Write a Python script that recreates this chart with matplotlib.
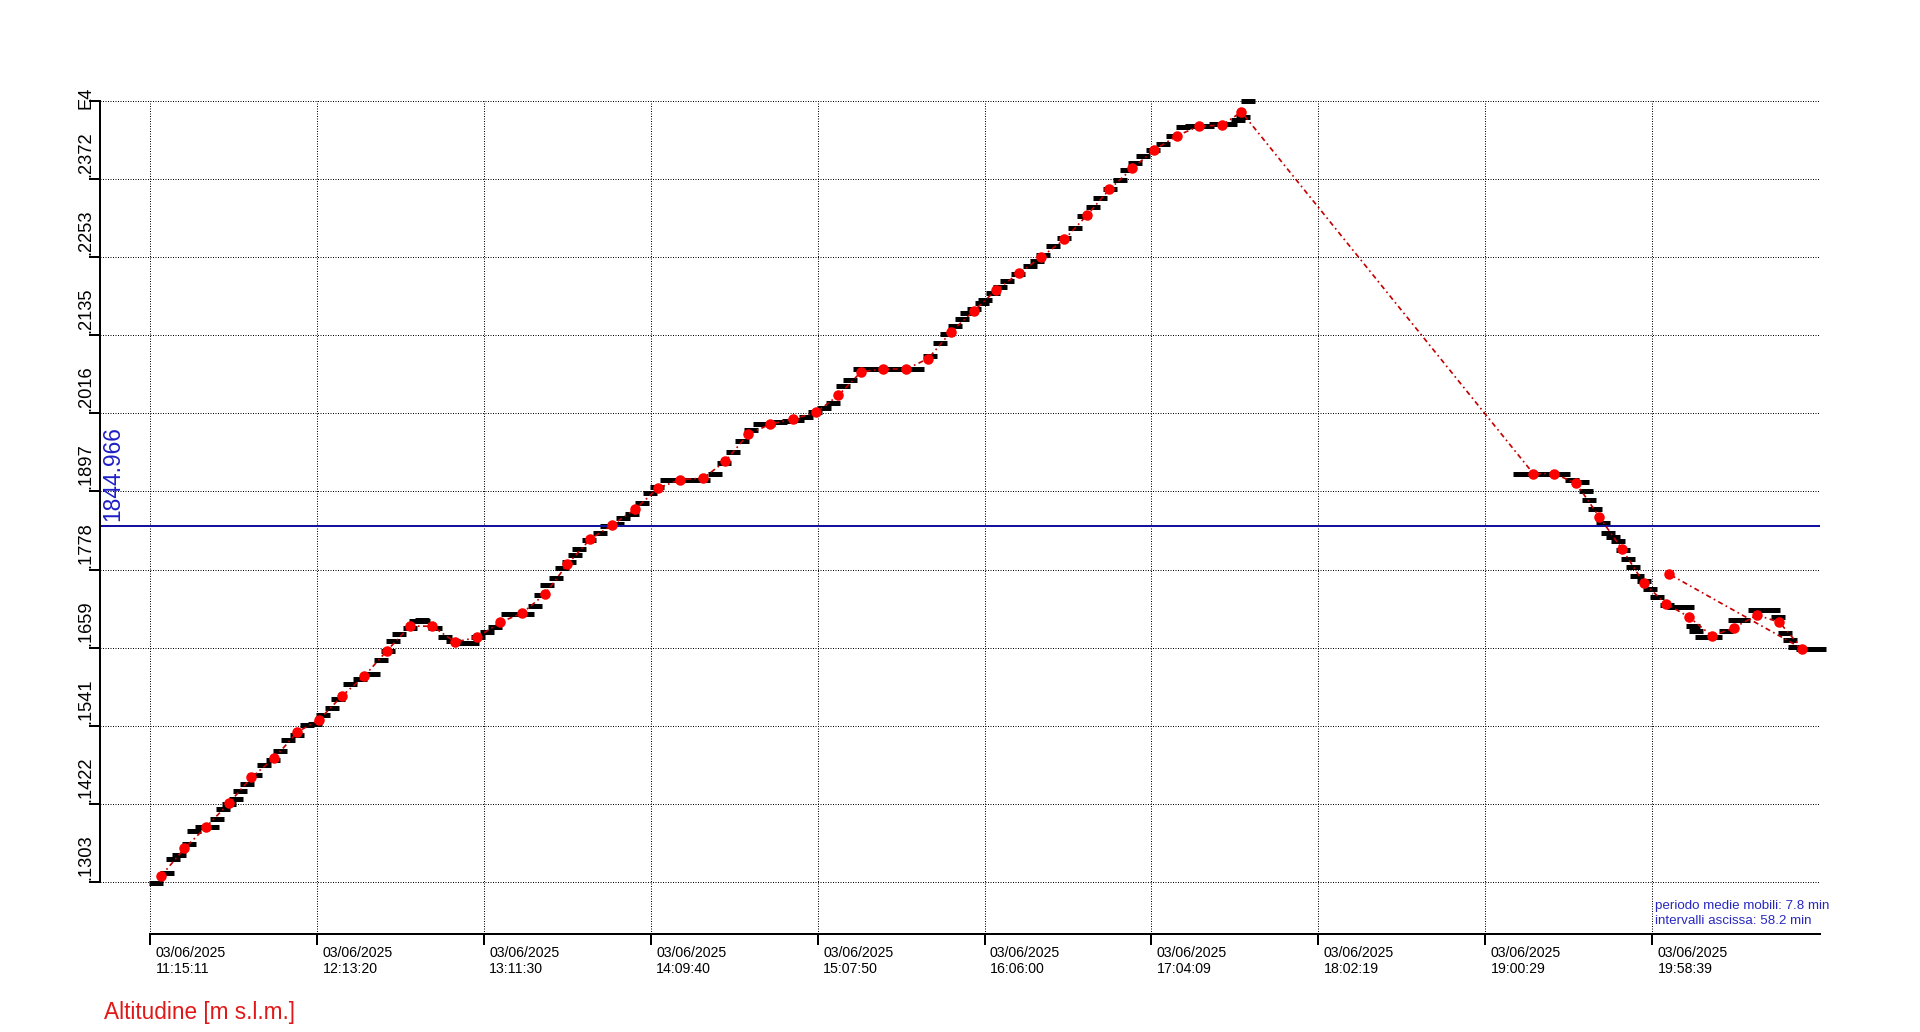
import matplotlib
matplotlib.use("Agg")
import matplotlib.pyplot as plt

plt.rcParams['font.family'] = ['Liberation Sans', 'DejaVu Sans']

# ── data ─────────────────────────────────────────────────────────────────────
# x axis: minutes after 03/06/2025 11:15:11
tick_date = "03/06/2025"
tick_times = ["11:15:11", "12:13:20", "13:11:30", "14:09:40", "15:07:50",
              "16:06:00", "17:04:09", "18:02:19", "19:00:29", "19:58:39"]

y_ticks = [1303.0, 1421.8, 1540.6, 1659.4, 1778.2, 1897.0,
           2015.8, 2134.6, 2253.4, 2372.2, 2491.0]
y_labels = [".1303", ".1422", ".1541", ".1659", ".1778", ".1897",
            ".2016", ".2135", ".2253", ".2372"]
exp_label = "E4"

ref_alt = 1844.966

# raw altitude samples (black)
raw_t = [2.0, 5.8, 8.1, 10.1, 13.6, 15.4, 17.9, 21.4, 23.4, 25.3, 27.5, 29.9,
         31.3, 33.8, 36.5, 39.7, 42.9, 45.2, 48.1, 51.1, 54.5, 57.4, 60.3, 63.3,
         65.6, 69.6, 73.1, 77.8, 80.3, 83.0, 84.7, 86.8, 90.5, 92.5, 94.6,
         95.2, 99.3, 102.7, 105.6, 109.7, 112.0, 114.4, 117.3, 120.2, 124.8,
         128.0, 131.2, 134.1, 136.2, 138.2, 141.4, 143.4, 145.8, 148.1, 149.6,
         153.0, 156.8, 159.1, 162.6, 164.9, 167.8, 171.3, 174.2, 176.5, 180.0,
         183.0, 187.0, 190.0, 192.8,
         196.9, 200.0, 203.2, 206.2, 209.5, 212.5, 215.5, 219.5, 222.5, 225.3,
         228.5, 231.7, 235.0, 238.1, 241.6, 243.9, 247.4, 250.5, 254.4, 257.5,
         261.4, 264.5, 267.1, 271.8, 275.3, 277.6, 280.5, 282.8, 284.6, 287.2,
         289.8,
         291.0, 293.9, 296.2, 298.5, 302.5, 306.6, 309.0, 311.3, 314.8, 318.5,
         322.3, 325.5, 328.7, 331.1, 334.5, 338.0, 340.3, 343.2, 346.1, 349.5,
         353.1, 356.5, 360.1, 363.0, 366.0, 368.3, 371.5, 374.0, 376.4, 379.0,
         381.0, 382.8,
         477.4, 480.5, 483.5, 486.5, 489.5, 492.5, 495.5, 498.9, 500.4, 501.6,
         503.6, 506.5, 508.2, 510.0, 511.7, 513.5, 515.2, 516.9, 518.1, 520.5,
         522.7, 525.1, 528.6, 531.0, 533.2, 535.5, 537.8, 538.9, 541.0, 543.1,
         545.5, 549.4, 552.5, 555.3, 559.5, 562.8, 565.5, 567.5, 569.8, 571.5,
         573.3, 576.0, 579.0, 581.5]
raw_alt = [1302, 1317, 1338, 1344, 1361, 1381, 1386, 1387, 1399, 1414, 1422, 1430,
           1441, 1452, 1465, 1481, 1489, 1503, 1519, 1526, 1542, 1543, 1557, 1568,
           1582, 1604, 1612, 1620, 1641, 1655, 1670, 1680, 1690, 1700, 1701,
           1700, 1690, 1676, 1670, 1667, 1667, 1676, 1683, 1691, 1710,
           1710, 1710, 1723, 1740, 1755, 1766, 1780, 1790, 1800, 1810,
           1823, 1833, 1844, 1848, 1856, 1863, 1879, 1894, 1904, 1914,
           1914, 1914, 1914, 1914,
           1923, 1940, 1957, 1974, 1990, 1999, 2000, 2003, 2004, 2005,
           2010, 2017, 2024, 2032, 2057, 2067, 2083, 2083, 2083, 2083,
           2083, 2083, 2083, 2103, 2123, 2136, 2148, 2159, 2168, 2175,
           2183,
           2188, 2198, 2207, 2217, 2228, 2239, 2248, 2256, 2270, 2283,
           2298, 2315, 2329, 2343, 2357, 2371, 2386, 2396, 2407, 2416,
           2425, 2438, 2451, 2452, 2452, 2453, 2455, 2455, 2456, 2462,
           2466, 2491,
           1923, 1923, 1923, 1923, 1923, 1923, 1914, 1911, 1898, 1884,
           1870, 1849, 1833, 1828, 1822, 1808, 1794, 1782, 1768, 1760,
           1748, 1737, 1724, 1721, 1721, 1721, 1692, 1684, 1676, 1676,
           1676, 1684, 1701, 1701, 1716, 1716, 1716, 1706, 1681, 1671,
           1661, 1657, 1657, 1657]

# moving averages (red)
ma_t = [3.76, 11.89, 19.55, 27.47, 35.24, 43.15, 51.27, 58.94, 66.85, 74.62,
        82.54, 90.55, 98.33, 106.24, 114.01, 122.03, 129.70, 137.61, 145.38,
        153.29, 161.07, 169.08, 177.0, 184.77, 192.78, 200.45, 208.47, 216.03,
        224.15, 232.07, 239.84, 247.86, 255.52, 263.54, 271.21, 279.22, 287.24,
        294.81, 302.93, 310.49, 318.62, 326.53, 334.30, 342.31, 349.88, 358.0,
        365.46, 373.68, 380.31, 482.08, 489.40, 497.07, 505.09, 512.89, 520.68,
        528.34, 536.35, 544.37, 552.14, 560.05, 567.83, 575.74, 529.49]
ma_alt = [1312, 1354, 1387, 1423, 1462, 1491, 1531, 1550, 1586, 1616,
          1655, 1692, 1692, 1668, 1675, 1698, 1712, 1741, 1786,
          1824, 1846, 1870, 1902, 1915, 1917, 1943, 1984, 1999,
          2007, 2017, 2043, 2079, 2083, 2083, 2099, 2140, 2172,
          2203, 2229, 2253, 2280, 2317, 2356, 2388, 2416, 2438,
          2452, 2454, 2474, 1924, 1924, 1909, 1858, 1810, 1757,
          1726, 1706, 1677, 1690, 1709, 1698, 1658, 1771]


def minutes(hms):
    h, m, s = map(int, hms.split(":"))
    return (h * 60 + m + s / 60) - (11 * 60 + 15 + 11 / 60)


x_ticks = [minutes(t) for t in tick_times]
PX = 0.72  # points per pixel at dpi 100

# ── figure ───────────────────────────────────────────────────────────────────
fig = plt.figure(figsize=(19.2, 10.32), dpi=100)
ax = fig.add_axes([100 / 1920, 98 / 1032, 1720 / 1920, 833.3 / 1032])
ax.set_xlim(-17.5, 582.0)
ax.set_ylim(1224, 2491)

for s in ("top", "right"):
    ax.spines[s].set_visible(False)
ax.spines["left"].set_linewidth(2 * PX)
ax.spines["bottom"].set_linewidth(2 * PX)
ax.spines["left"].set_bounds(y_ticks[0], y_ticks[-1])
ax.spines["bottom"].set_bounds(0, 582.0)

ax.set_xticks(x_ticks)
ax.set_yticks(y_ticks)
ax.set_xticklabels([])
ax.set_yticklabels([])
ax.tick_params(direction="out", length=11 * PX, width=2 * PX, color="black")

ax.grid(True, color="black", linestyle=(0, (1, 1.5)), linewidth=1 * PX)
ax.set_axisbelow(True)

# tick labels
for v, lab in zip(y_ticks, y_labels):
    ax.annotate(lab, xy=(0, v), xycoords=("axes fraction", "data"),
                xytext=(-14.5 * PX, 2 * PX), textcoords="offset points",
                rotation=90, ha="center", va="bottom", fontsize=13.2,
                annotation_clip=False)
ax.annotate(exp_label, xy=(0, y_ticks[-1]), xycoords=("axes fraction", "data"),
            xytext=(-14.5 * PX, -8 * PX), textcoords="offset points",
            rotation=90, ha="center", va="bottom", fontsize=13.2,
            annotation_clip=False)
for v, t in zip(x_ticks, tick_times):
    ax.annotate(f"{tick_date}\n{t}", xy=(v, 0), xycoords=("data", "axes fraction"),
                xytext=(5.4 * PX, -12 * PX), textcoords="offset points",
                ha="left", va="top", fontsize=10.2, annotation_clip=False)

# reference altitude
ax.axhline(ref_alt, color="#12129E", linewidth=2 * PX, zorder=2.5)
ax.annotate(f"{ref_alt:.3f}", xy=(0, ref_alt), xycoords=("axes fraction", "data"),
            xytext=(13 * PX, 5 * PX), textcoords="offset points",
            rotation=90, ha="center", va="bottom", fontsize=16.4, color="#1E1EC8")

# raw samples
ax.plot(raw_t, raw_alt, linestyle="none", marker="_", markersize=14 * PX,
        markeredgewidth=5 * PX, color="black", zorder=2, clip_on=False)

# moving average
ax.plot(ma_t, ma_alt, color="#C40000", linestyle=(0, (3, 2, 1, 2)),
        linewidth=1.7 * PX, zorder=3)
ax.plot(ma_t, ma_alt, linestyle="none", marker="o", markersize=10.5 * PX,
        color="#FF0000", markeredgewidth=0, zorder=4)

fig.text(104 / 1920, (1032 - 1013) / 1032, "Altitudine [m s.l.m.]",
         color="#E01818", fontsize=16.3, ha="left", va="center")
fig.text(1655 / 1920, (1032 - 913.5) / 1032,
         "periodo medie mobili: 7.8 min\nintervalli ascissa: 58.2 min",
         color="#2828C0", fontsize=9.6, ha="left", va="center", linespacing=1.25)

fig.savefig("out.png", dpi=100)
